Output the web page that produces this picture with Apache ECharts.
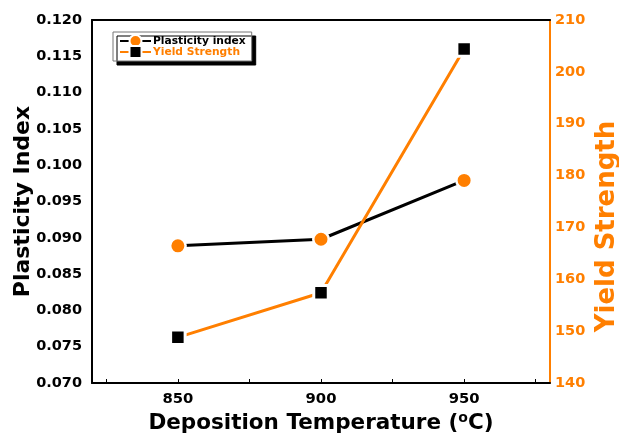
<!DOCTYPE html>
<html>
<head>
<meta charset="utf-8">
<script src="https://cdn.jsdelivr.net/npm/echarts@6/dist/echarts.min.js"></script>
<style>html,body{margin:0;padding:0;background:#fff}#c{width:619px;height:445px}</style>
</head>
<body>
<div id="c"></div>
<script>
var temperatures = [850, 900, 950];
var plasticityIndex = [0.0889, 0.0898, 0.0979];
var yieldStrength = [148.8, 157.4, 204.4];
var xTickValues = [825, 850, 875, 900, 925, 950, 975];
var xLabelValues = [850, 900, 950];

var ORANGE = '#FF7F00';
var FONT = 'DejaVu Sans';

function pairs(xs, ys) { return xs.map(function (x, i) { return [x, ys[i]]; }); }

var chart = echarts.init(document.getElementById('c'), null, {renderer: 'canvas'});
chart.setOption({
  animation: false,
  backgroundColor: '#fff',
  grid: {left: 92, right: 69, top: 20, bottom: 62, containLabel: false, outerBoundsMode: 'none'},
  legend: {
    orient: 'vertical', left: 113, top: 32,
    itemWidth: 31, itemHeight: 15, itemGap: -3,
    padding: [2, 6, 2, 6],
    backgroundColor: '#fff', borderColor: '#777', borderWidth: 1,
    shadowColor: '#000', shadowBlur: 0, shadowOffsetX: 4, shadowOffsetY: 4,
    textStyle: {fontFamily: FONT, fontWeight: 'bold', fontSize: 10.7, padding: [0, 0, 0, -3]},
    data: [
      {name: 'Plasticity index', textStyle: {color: '#000'}},
      {name: 'Yield Strength', textStyle: {color: ORANGE}}
    ]
  },
  xAxis: [{
    type: 'value', min: 820, max: 980, position: 'bottom',
    name: '{a|Deposition Temperature (}{s|o}{a|C)}',
    nameLocation: 'middle', nameGap: 28, nameMoveOverlap: false,
    nameTextStyle: {
      rich: {
        a: {fontFamily: FONT, fontWeight: 'bold', fontSize: 21.5, lineHeight: 24, color: '#000'},
        s: {fontFamily: FONT, fontWeight: 'bold', fontSize: 14, lineHeight: 9, color: '#000', verticalAlign: 'top'}
      }
    },
    axisLine: {show: true, lineStyle: {color: '#000', width: 2}},
    axisTick: {show: true, inside: true, length: 4, lineStyle: {color: '#000', width: 1}, customValues: xTickValues},
    axisLabel: {customValues: xLabelValues, margin: 9, fontFamily: FONT, fontWeight: 'bold', fontSize: 14.8, color: '#000'},
    splitLine: {show: false}
  }, {
    type: 'value', min: 820, max: 980, position: 'top',
    axisLine: {show: true, lineStyle: {color: '#000', width: 2}},
    axisTick: {show: false}, axisLabel: {show: false}, splitLine: {show: false}
  }],
  yAxis: [{
    type: 'value', min: 0.070, max: 0.120, interval: 0.005, position: 'left',
    name: 'Plasticity Index', nameLocation: 'middle', nameGap: 58, nameRotate: 90, nameMoveOverlap: false,
    nameTextStyle: {fontFamily: FONT, fontWeight: 'bold', fontSize: 22, color: '#000'},
    axisLine: {show: true, lineStyle: {color: '#000', width: 2}},
    axisTick: {show: false},
    axisLabel: {margin: 10, fontFamily: FONT, fontWeight: 'bold', fontSize: 14.5, color: '#000',
      formatter: function (v) { return v.toFixed(3); }},
    splitLine: {show: false}
  }, {
    type: 'value', min: 140, max: 210, interval: 10, position: 'right',
    name: 'Yield Strength', nameLocation: 'middle', nameGap: 44, nameRotate: 90, nameMoveOverlap: false,
    nameTextStyle: {fontFamily: FONT, fontWeight: 'bold', fontSize: 26, color: ORANGE, padding: [0, 50, 0, 0]},
    axisLine: {show: true, lineStyle: {color: ORANGE, width: 2}},
    axisTick: {show: false},
    axisLabel: {margin: 5, fontFamily: FONT, fontWeight: 'bold', fontSize: 14.5, color: ORANGE},
    splitLine: {show: false}
  }],
  series: [{
    name: 'Plasticity index', type: 'line', xAxisIndex: 0, yAxisIndex: 0,
    data: pairs(temperatures, plasticityIndex),
    symbol: 'circle', symbolSize: 15.5,
    lineStyle: {color: '#000', width: 3},
    itemStyle: {color: ORANGE, borderColor: '#fff', borderWidth: 2.5},
    emphasis: {disabled: true}, z: 2
  }, {
    name: 'Yield Strength', type: 'line', xAxisIndex: 0, yAxisIndex: 1,
    data: pairs(temperatures, yieldStrength),
    symbol: 'rect', symbolSize: 14.5,
    lineStyle: {color: ORANGE, width: 3},
    itemStyle: {color: '#000', borderColor: '#fff', borderWidth: 3},
    emphasis: {disabled: true}, z: 3
  }]
});
</script>
</body>
</html>
